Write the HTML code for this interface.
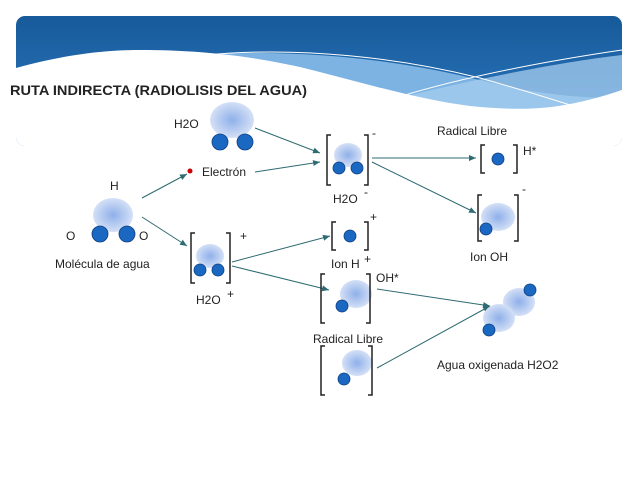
<!DOCTYPE html>
<html><head><meta charset="utf-8"><style>
body{margin:0;background:#fff;}
svg{display:block;font-family:"Liberation Sans",sans-serif;}
text{font-size:12px;fill:#222;}
</style></head><body>
<svg width="638" height="479" viewBox="0 0 638 479">
<defs>
<linearGradient id="hd" x1="0" y1="0" x2="0" y2="1">
<stop offset="0" stop-color="#175a9a"/><stop offset="1" stop-color="#2f7cc4"/></linearGradient>
<radialGradient id="bl"><stop offset="0" stop-color="#8fb0ea"/><stop offset="1" stop-color="#d4e0f6"/></radialGradient>
<marker id="ar" markerWidth="8" markerHeight="8" refX="7" refY="4" orient="auto" markerUnits="userSpaceOnUse">
<path d="M0,1 L7,4 L0,7 z" fill="#2e6b72"/></marker>
<clipPath id="cp"><rect x="16" y="16" width="606" height="130" rx="9"/></clipPath>
</defs>
<g clip-path="url(#cp)">
<rect x="16" y="16" width="606" height="130" fill="url(#hd)"/>
<path d="M200,55 C300,48 400,60 480,80 C540,95 580,98 622,98 L622,146 L200,146z" fill="#7db3e3"/>
<path d="M390,100 C470,80 560,62 622,55 L622,146 L390,146z" fill="#a6cdef" opacity="0.75"/>
<path d="M16,68 C60,56 100,50 140,50 C200,50 250,56 300,67 C360,82 420,100 470,106 C510,110 540,110 570,104 C595,99 610,94 622,90 L622,146 L16,146z" fill="#fff"/>
<path d="M205,55 C300,46 400,58 480,78 C530,92 560,102 580,108" stroke="#fff" stroke-width="1" fill="none"/>
<path d="M395,98 C460,78 540,62 622,50" stroke="#fff" stroke-width="1" fill="none"/>
</g>
<text x="10" y="95" textLength="297" lengthAdjust="spacingAndGlyphs" style="font-weight:bold;font-size:14px">RUTA INDIRECTA (RADIOLISIS DEL AGUA)</text>
<g stroke="#2e6b72" stroke-width="1" marker-end="url(#ar)">
<line x1="142" y1="198" x2="187" y2="174"/>
<line x1="142" y1="217" x2="187" y2="246"/>
<line x1="255" y1="128" x2="320" y2="153"/>
<line x1="255" y1="172" x2="320" y2="162"/>
<line x1="232" y1="262" x2="330" y2="236"/>
<line x1="232" y1="266" x2="329" y2="290"/>
<line x1="372" y1="158" x2="476" y2="158"/>
<line x1="372" y1="162" x2="476" y2="213"/>
<line x1="377" y1="289" x2="490" y2="306"/>
<line x1="377" y1="368" x2="490" y2="306"/>
</g>
<g fill="url(#bl)">
<ellipse cx="232" cy="120" rx="22" ry="18"/>
<ellipse cx="113" cy="215" rx="20" ry="17"/>
<ellipse cx="348" cy="155" rx="14" ry="12"/>
<ellipse cx="210" cy="256" rx="14" ry="12"/>
<ellipse cx="356" cy="294" rx="16" ry="14"/>
<ellipse cx="357" cy="363" rx="15" ry="13"/>
<ellipse cx="498" cy="217" rx="17" ry="14"/>
<ellipse cx="519" cy="302" rx="16" ry="14"/>
<ellipse cx="499" cy="318" rx="16" ry="14"/>
</g>
<g fill="#1a68c2" stroke="#0d3f80" stroke-width="0.8">
<circle cx="220" cy="142" r="8"/><circle cx="245" cy="142" r="8"/>
<circle cx="100" cy="234" r="8"/><circle cx="127" cy="234" r="8"/>
<circle cx="339" cy="168" r="6"/><circle cx="357" cy="168" r="6"/>
<circle cx="200" cy="270" r="6"/><circle cx="218" cy="270" r="6"/>
<circle cx="350" cy="236" r="6"/>
<circle cx="342" cy="306" r="6"/>
<circle cx="344" cy="379" r="6"/>
<circle cx="498" cy="159" r="6"/>
<circle cx="486" cy="229" r="6"/>
<circle cx="530" cy="290" r="6"/>
<circle cx="489" cy="330" r="6"/>
</g>
<circle cx="190" cy="171" r="2.5" fill="#c00"/>
<g stroke="#222" stroke-width="1.5" fill="none">
<path d="M331,135 h-4 v50 h4 M364,135 h4 v50 h-4"/>
<path d="M195,233 h-4 v50 h4 M226,233 h4 v50 h-4"/>
<path d="M336,222 h-4 v28 h4 M364,222 h4 v28 h-4"/>
<path d="M325,274 h-4 v49 h4 M366,274 h4 v49 h-4"/>
<path d="M325,346 h-4 v49 h4 M368,346 h4 v49 h-4"/>
<path d="M485,145 h-4 v28 h4 M513,145 h4 v28 h-4"/>
<path d="M482,195 h-4 v46 h4 M514,195 h4 v46 h-4"/>
</g>
<text x="174" y="128">H2O</text>
<text x="202" y="176">Electrón</text>
<text x="110" y="190">H</text>
<text x="66" y="240">O</text>
<text x="139" y="240">O</text>
<text x="55" y="268">Molécula de agua</text>
<text x="372" y="137">-</text>
<text x="333" y="203">H2O</text><text x="364" y="196">-</text>
<text x="240" y="240">+</text>
<text x="196" y="304">H2O</text><text x="227" y="298">+</text>
<text x="370" y="221">+</text>
<text x="331" y="268">Ion H</text><text x="364" y="263">+</text>
<text x="376" y="282">OH*</text>
<text x="313" y="343">Radical Libre</text>
<text x="437" y="135">Radical Libre</text>
<text x="523" y="155">H*</text>
<text x="522" y="193">-</text>
<text x="470" y="261">Ion OH</text>
<text x="437" y="369">Agua oxigenada H2O2</text>
</svg>
</body></html>
